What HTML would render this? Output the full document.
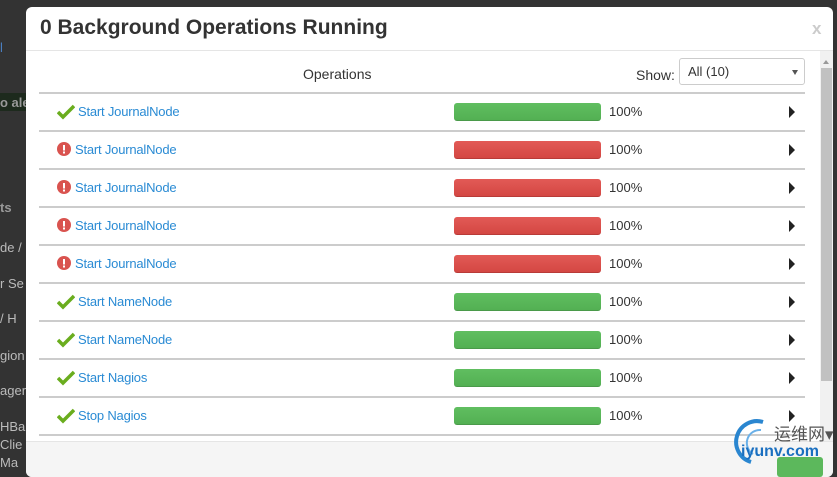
<!DOCTYPE html>
<html><head><meta charset="utf-8"><style>
*{margin:0;padding:0;box-sizing:border-box}
body{width:837px;height:465px;background:#333;position:relative;overflow:hidden;font-family:"Liberation Sans",Arial,sans-serif;font-size:13px;color:#333}
.bg{position:absolute;left:0;color:#bbb;font-size:13px;white-space:nowrap}
.modal{position:absolute;left:26px;top:7px;width:807px;height:470px;background:#fff;border-radius:6px;overflow:hidden}
.title{position:absolute;left:14px;top:9px;font-size:21px;font-weight:bold;color:#333}
.x{position:absolute;left:786px;top:12px;font-size:17px;font-weight:bold;color:#ccc}
.hsep{position:absolute;left:0;top:43px;width:807px;height:1px;background:#e5e5e5}
.ops{position:absolute;left:277px;top:59px;font-size:14px;color:#333}
.show{position:absolute;left:610px;top:60px;font-size:14px}
.sel{position:absolute;left:653px;top:51px;width:126px;height:27px;border:1px solid #ccc;border-radius:3px;font-size:13px;padding:5px 0 0 8px}
.sel:after{content:"";position:absolute;right:6px;top:11px;border:3px solid transparent;border-top:5px solid #555}
.sb{position:absolute;left:794px;top:44px;width:13px;height:400px;background:#f1f1f1}
.thumb{position:absolute;left:795px;top:61px;width:11px;height:313px;background:#c1c1c1}
.sbup{position:absolute;left:797px;top:50px;border:3px solid transparent;border-bottom:4px solid #999}
.line{position:absolute;left:13px;width:766px;height:2px;background:#ccc}
.row{position:absolute;left:13px;width:766px;height:36px}
.ic{position:absolute;left:18px;top:10px}
.lnk{position:absolute;top:10px;color:#2a8bd4;font-size:13px;letter-spacing:-0.2px}
.bar{position:absolute;left:415px;top:9px;width:147px;height:18px;border-radius:3px}
.g{background:linear-gradient(#60be60,#53b053);border-bottom:1px solid #4a9a4a}
.r{background:linear-gradient(#e25a56,#d44743);border-bottom:1px solid #b83b38}
.pct{position:absolute;left:570px;top:10px;font-size:13px}
.arr{position:absolute;left:750px;top:12px;border-top:6px solid transparent;border-bottom:6px solid transparent;border-left:6px solid #222}
.foot{position:absolute;left:0;top:434px;width:807px;height:40px;background:#f5f5f5;border-top:1px solid #e5e5e5}
.ok{position:absolute;left:751px;top:450px;width:46px;height:20px;background:#5cb85c;border-radius:3px}
.wm1{position:absolute;left:774px;top:420px;font-size:17px;color:#555;font-family:"Liberation Sans","Noto Sans CJK SC",sans-serif}
.wm2{position:absolute;left:741px;top:443px;font-size:16px;color:#1a6fc0;font-weight:bold}
</style></head><body>
<div class="bg" style="top:40px;color:#4a7fc0">l</div>
<div style="position:absolute;left:0;top:93px;width:26px;height:18px;background:#1d2a1d"></div>
<div class="bg" style="top:95px;font-weight:bold;color:#999">o ale</div>
<div class="bg" style="top:200px;font-weight:bold;color:#999">ts</div>
<div class="bg" style="top:240px">de /</div>
<div class="bg" style="top:276px">r Se</div>
<div class="bg" style="top:311px">/ H</div>
<div class="bg" style="top:348px">gion</div>
<div class="bg" style="top:383px">ager</div>
<div class="bg" style="top:419px">HBa</div>
<div class="bg" style="top:437px">Clie</div>
<div class="bg" style="top:455px">Ma</div>
<div class="modal">
<div class="title">0 Background Operations Running</div>
<div class="x">x</div>
<div class="hsep"></div>
<div class="ops">Operations</div>
<div class="show">Show:</div>
<div class="sel">All (10)</div>
<div class="sb"></div><div class="thumb"></div><div class="sbup"></div>
<div class="line" style="top:85px"></div>
<div class="row" style="top:87px"><svg class="ic" width="18" height="16" viewBox="0 0 18 16"><path d="M1 8l5 5L17 2" fill="none" stroke="#6aad1e" stroke-width="3.5"/></svg><span class="lnk" style="left:39px">Start JournalNode</span><div class="bar g"></div><span class="pct">100%</span><div class="arr"></div></div>
<div class="line" style="top:123px"></div>
<div class="row" style="top:125px"><svg class="ic" width="14" height="14"><circle cx="7" cy="7" r="7" fill="#d9534f"/><rect x="6" y="3" width="2" height="5.5" fill="#fff"/><rect x="6" y="9.5" width="2" height="2" fill="#fff"/></svg><span class="lnk" style="left:36px">Start JournalNode</span><div class="bar r"></div><span class="pct">100%</span><div class="arr"></div></div>
<div class="line" style="top:161px"></div>
<div class="row" style="top:163px"><svg class="ic" width="14" height="14"><circle cx="7" cy="7" r="7" fill="#d9534f"/><rect x="6" y="3" width="2" height="5.5" fill="#fff"/><rect x="6" y="9.5" width="2" height="2" fill="#fff"/></svg><span class="lnk" style="left:36px">Start JournalNode</span><div class="bar r"></div><span class="pct">100%</span><div class="arr"></div></div>
<div class="line" style="top:199px"></div>
<div class="row" style="top:201px"><svg class="ic" width="14" height="14"><circle cx="7" cy="7" r="7" fill="#d9534f"/><rect x="6" y="3" width="2" height="5.5" fill="#fff"/><rect x="6" y="9.5" width="2" height="2" fill="#fff"/></svg><span class="lnk" style="left:36px">Start JournalNode</span><div class="bar r"></div><span class="pct">100%</span><div class="arr"></div></div>
<div class="line" style="top:237px"></div>
<div class="row" style="top:239px"><svg class="ic" width="14" height="14"><circle cx="7" cy="7" r="7" fill="#d9534f"/><rect x="6" y="3" width="2" height="5.5" fill="#fff"/><rect x="6" y="9.5" width="2" height="2" fill="#fff"/></svg><span class="lnk" style="left:36px">Start JournalNode</span><div class="bar r"></div><span class="pct">100%</span><div class="arr"></div></div>
<div class="line" style="top:275px"></div>
<div class="row" style="top:277px"><svg class="ic" width="18" height="16" viewBox="0 0 18 16"><path d="M1 8l5 5L17 2" fill="none" stroke="#6aad1e" stroke-width="3.5"/></svg><span class="lnk" style="left:39px">Start NameNode</span><div class="bar g"></div><span class="pct">100%</span><div class="arr"></div></div>
<div class="line" style="top:313px"></div>
<div class="row" style="top:315px"><svg class="ic" width="18" height="16" viewBox="0 0 18 16"><path d="M1 8l5 5L17 2" fill="none" stroke="#6aad1e" stroke-width="3.5"/></svg><span class="lnk" style="left:39px">Start NameNode</span><div class="bar g"></div><span class="pct">100%</span><div class="arr"></div></div>
<div class="line" style="top:351px"></div>
<div class="row" style="top:353px"><svg class="ic" width="18" height="16" viewBox="0 0 18 16"><path d="M1 8l5 5L17 2" fill="none" stroke="#6aad1e" stroke-width="3.5"/></svg><span class="lnk" style="left:39px">Start Nagios</span><div class="bar g"></div><span class="pct">100%</span><div class="arr"></div></div>
<div class="line" style="top:389px"></div>
<div class="row" style="top:391px"><svg class="ic" width="18" height="16" viewBox="0 0 18 16"><path d="M1 8l5 5L17 2" fill="none" stroke="#6aad1e" stroke-width="3.5"/></svg><span class="lnk" style="left:39px">Stop Nagios</span><div class="bar g"></div><span class="pct">100%</span><div class="arr"></div></div>
<div class="line" style="top:427px"></div>
<div class="foot"></div>
<div class="ok"></div>
</div>
<svg style="position:absolute;left:733px;top:418px" width="40" height="47"><path d="M30 4A20 20 0 0 0 18 44" fill="none" stroke="#2a86d0" stroke-width="4"/><path d="M28 12A13 13 0 0 0 20 36" fill="none" stroke="#6ab0e8" stroke-width="2"/></svg>
<div class="wm1">运维网▾</div>
<div class="wm2">iyunv.com</div>
</body></html>
